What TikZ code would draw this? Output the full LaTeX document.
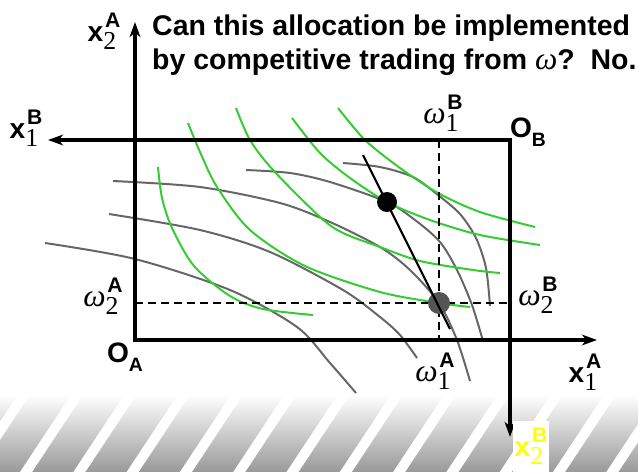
\documentclass[tikz,border=0pt]{standalone}
\usepackage{fontspec}
\setmainfont{Liberation Sans}
\newfontfamily\digitfont{Liberation Serif}
\usetikzlibrary{positioning, arrows.meta}
\definecolor{icgreen}{HTML}{33CC33}
\definecolor{icgrey}{HTML}{666666}
\definecolor{dotgrey}{HTML}{555555}
\definecolor{lblyellow}{HTML}{FFFF00}
\newcommand{\om}{{\fontsize{27}{27}\selectfont\digitfont\mdseries\itshape ω}}
\newcommand{\lab}[3]{#1\makebox[0pt][l]{\raisebox{-7pt}{\fontsize{22}{22}\selectfont\digitfont\mdseries #2}}\hspace{1.5pt}\raisebox{12pt}{\fontsize{18}{18}\selectfont\bfseries #3}}
\newcommand{\origin}[1]{O\raisebox{-7.5pt}{\fontsize{16.5}{17}\selectfont #1}}

\begin{document}
\begin{tikzpicture}[x=0.03cm, y=-0.03cm,
    axisline/.style={line width=3.4pt, {Stealth[length=4.5mm, width=3.2mm, inset=1.3mm]}-{Stealth[length=4.5mm, width=3.2mm, inset=1.3mm]}},
    indiffA/.style={icgreen, line width=1.7pt},
    indiffB/.style={icgrey, line width=1.7pt},
    guideline/.style={line width=1.6pt, dash pattern=on 6.8pt off 4.3pt},
    lbl/.style={inner sep=0pt, font=\fontsize{24}{29}\selectfont\bfseries}]
  \useasboundingbox (0,0) rectangle (638,472);

  % striped floor
  \shade[top color=white, bottom color=black!40] (0,395) rectangle (638,472);
  \foreach \s in {-1,...,12}
    \fill[white] ({20+53.3*\s},472) -- ++(12,0) -- ++(51,-77) -- ++(-12,0) -- cycle;

  \coordinate (oA) at (135,340);
  \coordinate (oB) at (510,140);
  \coordinate (endow) at (439,303);

  % B's indifference curves
  \draw[indiffB] plot[smooth] coordinates {(343,163) (380,167) (413,177) (438,195) (460,214) (476,238) (486,268) (490,306)};
  \draw[indiffB] plot[smooth] coordinates {(246,170) (290,173) (330,182) (387,202) (415,220) (440,242) (457,270) (472,305) (483,341)};
  \draw[indiffB] plot[smooth] coordinates {(113,181) (200,187) (280,203) (330,222) (380,247) (410,270) (439,303) (457,340) (470,381)};
  \draw[indiffB] plot[smooth] coordinates {(109,214) (200,230) (270,252) (343,290) (380,317) (400,335) (417,358)};
  \draw[indiffB] plot[smooth] coordinates {(45,243) (135,259) (230,290) (297,327) (330,363) (356,393)};

  % A's indifference curves
  \draw[indiffA] plot[smooth] coordinates {(158,167) (162,198) (172,228) (194,266) (230,296) (263,309) (313,315)};
  \draw[indiffA] plot[smooth] coordinates {(188,123) (200,152) (217,187) (250,230) (305,266) (380,292) (439,303) (470,307)};
  \draw[indiffA] plot[smooth] coordinates {(236,108) (250,140) (273,170) (320,217) (343,233) (380,247) (420,261) (473,270) (500,273)};
  \draw[indiffA] plot[smooth] coordinates {(292,118) (320,153) (350,178) (387,202) (430,220) (480,235) (540,245)};
  \draw[indiffA] plot[smooth] coordinates {(338,108) (365,140) (400,168) (438,193) (480,212) (535,227)};

  % endowment guides
  \draw[guideline] (endow |- oB) -- (endow |- oA);
  \draw[guideline] (oA |- endow) -- (oB |- endow);

  \node[circle, fill=black, minimum size=0.6cm, inner sep=0pt] (pareto) at (387,202) {};
  \node[circle, fill=dotgrey, minimum size=0.66cm, inner sep=0pt] (omega) at (endow) {};

  \coordinate (pTop) at (363,155);
  \coordinate (pBot) at (450,329);
  \draw[line width=1.9pt] (pTop) -- (pBot);

  % Edgeworth box axes
  \coordinate (xA2tip) at (135,22);
  \coordinate (xA1tip) at (597,340);
  \coordinate (xB1tip) at (48,140);
  \coordinate (xB2tip) at (510,437);
  \draw[axisline] (xA2tip) -- (oA) -- (xA1tip);
  \draw[axisline] (xB1tip) -- (oB) -- (xB2tip);

  \node[anchor=north west, align=left, inner sep=0pt, font=\fontsize{24.3}{29}\selectfont\bfseries] (question) at (152,15)
    {Can this allocation be implemented\\by competitive trading from \om?\ \ No.};

  \node[lbl] (xA2lbl) at (104,31) {\lab{x}{2}{A}};
  \node[lbl] (xB1lbl) at (26,128) {\lab{x}{1}{B}};
  \node[lbl] (xA1lbl) at (585,372) {\lab{x}{1}{A}};
  \node[lbl, fill=white, text=lblyellow, anchor=south, minimum width=1.1cm, minimum height=1.53cm] (xB2lbl) at (531,472) {\lab{x}{2}{B}};
  \node[lbl] (wB1lbl) at (443,113) {\lab{\om}{1}{B}};
  \node[lbl] (wA1lbl) at (435,371) {\lab{\om}{1}{A}};
  \node[lbl] (wA2lbl) at (103,296) {\lab{\om}{2}{A}};
  \node[lbl] (wB2lbl) at (538,295) {\lab{\om}{2}{B}};
  \node[lbl] (OAlbl) at (125,357) {\origin{A}};
  \node[lbl] (OBlbl) at (528,132) {\origin{B}};
\end{tikzpicture}
\end{document}
